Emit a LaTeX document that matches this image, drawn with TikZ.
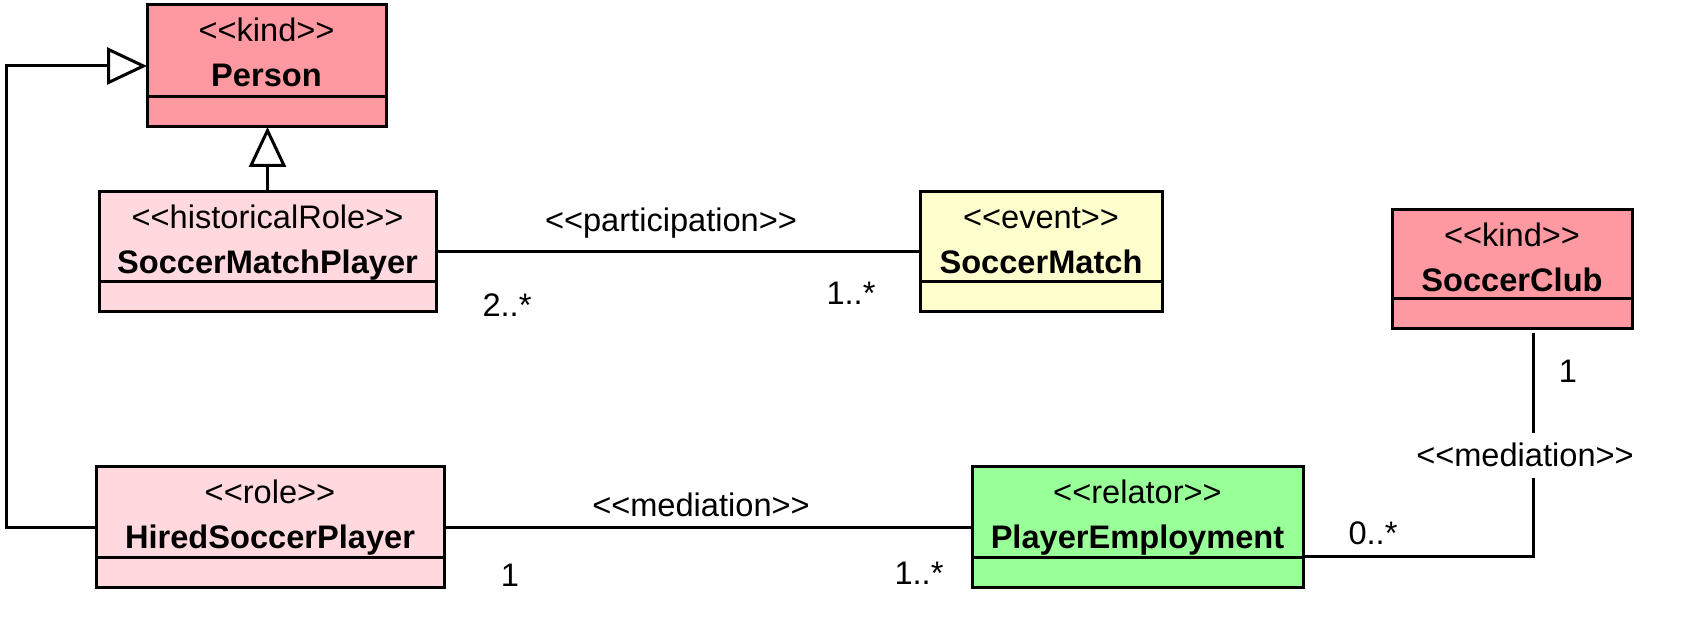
\documentclass[tikz,border=0pt]{standalone}
\usepackage{fontspec}
\setmainfont{Liberation Sans}[Ligatures=TeXOff]
\usepackage{tikz}
\usetikzlibrary{arrows.meta,positioning,calc}

\definecolor{kindred}{RGB}{255,153,161}
\definecolor{rolepink}{RGB}{255,217,221}
\definecolor{eventyellow}{RGB}{255,255,206}
\definecolor{relatorgreen}{RGB}{153,255,153}

\tikzset{
  umlclass/.style={draw,line width=1.5pt,inner sep=0pt,outer sep=0pt},
  stereo/.style={anchor=base,inner sep=0pt,font=\fontsize{16.3}{19}\selectfont},
  clsname/.style={stereo,font=\fontsize{16.3}{19}\selectfont\bfseries},
  mult/.style={anchor=base,inner sep=0pt,font=\fontsize{16.3}{19}\selectfont},
  assoc/.style={line width=1.5pt},
  gen/.style={line width=1.5pt,-{Triangle[fill=white,length=20pt,width=18.5pt]}}
}

\begin{document}
\begin{tikzpicture}[x=0.5pt,y=0.5pt]
      \useasboundingbox (0,0) rectangle (1688,-641);

      \coordinate (p) at (266.5,-66);
      \coordinate (s) at (267.5,-252);
      \coordinate (m) at (1041,-252);
      \coordinate (c) at (1512,-269.5);
      \coordinate (h) at (270,-527.5);
      \coordinate (e) at (1137.5,-527.5);

      \node[umlclass,fill=kindred,minimum width=119.5pt,minimum height=61pt] (person) at (p) {};
      \node[umlclass,fill=rolepink,minimum width=168.5pt,minimum height=60pt] (smp) at (s) {};
      \node[umlclass,fill=eventyellow,minimum width=121pt,minimum height=60pt] (sm) at (m) {};
      \node[umlclass,fill=kindred,minimum width=120pt,minimum height=59.5pt] (club) at (c) {};
      \node[umlclass,fill=rolepink,minimum width=174pt,minimum height=60.5pt] (hired) at (h) {};
      \node[umlclass,fill=relatorgreen,minimum width=165.5pt,minimum height=60.5pt] (emp) at (e) {};

      \foreach \c/\st/\nm in {person/kind/Person,smp/historicalRole/SoccerMatchPlayer,
          sm/event/SoccerMatch,club/kind/SoccerClub,hired/role/HiredSoccerPlayer,
          emp/relator/PlayerEmployment}{
        \node[stereo] (\c-st) at ($(\c.north)+(0,-36.5)$) {<<\st>>};
        \node[clsname] (\c-nm) at ($(\c.north)+(0,-81.5)$) {\nm};
        \draw[line width=1.5pt] ($(\c.south west)+(0,30)$) -- ($(\c.south east)+(0,30)$);
      }

      % generalizations
      \coordinate (genbend) at (6,-300);
      \draw[gen] (smp.north) -- (smp.north |- person.south);
      \draw[gen] (hired.west) -| (genbend) |- (person.west);

      % participation
      \draw[assoc] (smp.east) -- (sm.west);
      \node[mult] (partlbl) at (671,-232) {<<participation>>};
      \node[mult] (smpmult) at (507,-317) {2..*};
      \node[mult] (smmult) at (851,-305) {1..*};

      % mediations
      \draw[assoc] (hired.east) -- (emp.west);
      \node[mult] (medlbl) at (701,-517) {<<mediation>>};
      \node[mult] (hiredmult) at (510,-587) {1};
      \node[mult] (empmult) at (919,-585) {1..*};

      \coordinate (medbend) at (1533,-557);
      \node[mult,inner sep=5pt] (clublbl) at (1525,-467) {<<mediation>>};
      \draw[assoc] (emp.east |- medbend) -- (medbend) -- (medbend |- clublbl.south);
      \draw[assoc,shorten >=2pt] (medbend |- clublbl.north) -- (medbend |- club.south);
      \node[mult] (empclubmult) at (1373,-545) {0..*};
      \node[mult] (clubmult) at (1568,-383) {1};
\end{tikzpicture}
\end{document}
